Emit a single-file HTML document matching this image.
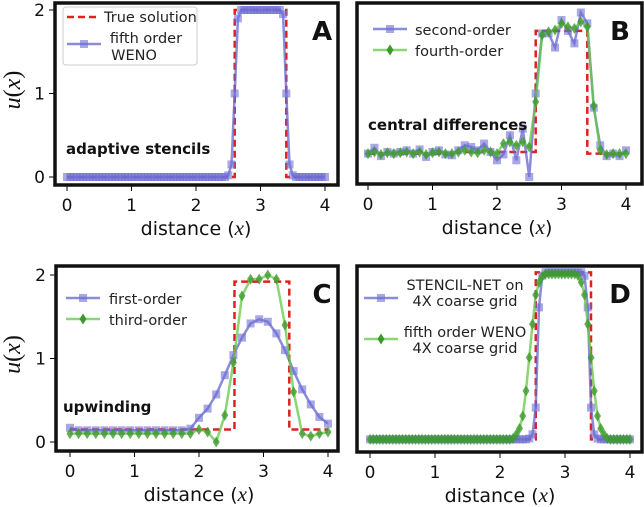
<!DOCTYPE html>
<html><head><meta charset="utf-8"><style>
html,body{margin:0;padding:0;background:#fff;}
svg{display:block;font-family:"DejaVu Sans","Liberation Sans",sans-serif;}
</style></head><body>
<svg id="fig" width="644" height="507" viewBox="0 0 644 507" xmlns="http://www.w3.org/2000/svg"></svg>
<script>
// ---- data ----
const xTicks = [0,1,2,3,4];
const yTicks = [0,1,2];
// Panel A (dx = 0.05)
const aTrueX = [0,2.6,2.6,3.4,3.4,4];
const aTrueY = [0,0,2,2,0,0];
const aWeno = [0,0,0,0,0,0,0,0,0,0, 0,0,0,0,0,0,0,0,0,0, 0,0,0,0,0,0,0,0,0,0, 0,0,0,0,0,0,0,0,0,0, 0,0,0,0,0,0,0,0,0,0,
  0.02,0.15,1.0,1.9,2,2,2,2,2,2, 2,2,2,2,2,2,2,1.95,1.0,0.15, 0.02,0,0,0,0,0,0,0,0,0, 0];
// Panel B (dx = 0.1)
const bTrueX = [0,1.3,1.3,2.6,2.6,3.4,3.4,4];
const bTrueY = [0.28,0.28,0.3,0.3,1.75,1.75,0.28,0.28];
const bSecond = [0.28,0.35,0.25,0.3,0.28,0.3,0.32,0.28,0.33,0.24, 0.3,0.32,0.27,0.26,0.32,0.38,0.36,0.32,0.4,0.3,
  0.2,0.27,0.5,0.2,0.58,0.0,1.0,1.72,1.72,1.55, 1.88,1.75,1.6,1.97,1.84,0.83,0.38,0.25,0.28,0.25, 0.32];
const bFourth = [0.28,0.3,0.27,0.29,0.28,0.29,0.3,0.28,0.3,0.27, 0.29,0.3,0.28,0.28,0.3,0.32,0.3,0.29,0.32,0.3,
  0.28,0.4,0.42,0.38,0.42,0.36,0.9,1.7,1.74,1.76, 1.84,1.8,1.78,1.86,1.8,0.85,0.32,0.27,0.28,0.28, 0.28];
// Panel C (dx = 4/30)
const cTrueX = [0,2.55,2.55,3.4,3.4,4];
const cTrueY = [0.15,0.15,1.92,1.92,0.15,0.15];
const cFirst = [0.17,0.14,0.14,0.14,0.14,0.14,0.14,0.14,0.14,0.14, 0.14,0.14,0.14,0.14,0.16,0.29,0.4,0.57,0.8,1.04,
  1.25,1.42,1.47,1.44,1.3,1.1,0.85,0.63,0.45,0.3, 0.22];
const cThird = [0.1,0.1,0.1,0.1,0.1,0.1,0.1,0.1,0.1,0.1, 0.1,0.1,0.1,0.1,0.1,0.15,0.12,0.0,0.32,0.95,
  1.75,1.95,1.95,2.0,1.95,1.4,0.6,0.1,0.07,0.1, 0.12];
// Panel D (dx = 0.05)
const dTrueX = [0,2.55,2.55,3.4,3.4,4];
const dTrueY = [0.02,0.02,2.02,2.02,0.02,0.02];
const dStencil = [0.02,0.02,0.02,0.02,0.02,0.02,0.02,0.02,0.02,0.02, 0.02,0.02,0.02,0.02,0.02,0.02,0.02,0.02,0.02,0.02,
  0.02,0.02,0.02,0.02,0.02,0.02,0.02,0.02,0.02,0.02, 0.02,0.02,0.02,0.02,0.02,0.02,0.02,0.02,0.02,0.02,
  0.02,0.02,0.02,0.02,0.02,0.02,0.02,0.02,0.02,0.03, 0.08,0.4,1.6,1.98,2.02,2.02,2.02,2.02,2.02,2.02,
  2.02,2.02,2.02,2.02,2.02,2.02,1.98,1.6,0.4,0.08, 0.03,0.02,0.02,0.02,0.02,0.02,0.02,0.02,0.02,0.02, 0.02];
const dWeno = [0.02,0.02,0.02,0.02,0.02,0.02,0.02,0.02,0.02,0.02, 0.02,0.02,0.02,0.02,0.02,0.02,0.02,0.02,0.02,0.02,
  0.02,0.02,0.02,0.02,0.02,0.02,0.02,0.02,0.02,0.02, 0.02,0.02,0.02,0.02,0.02,0.02,0.02,0.02,0.02,0.02,
  0.02,0.02,0.02,0.02,0.03,0.08,0.15,0.3,0.6,1.0, 1.4,1.75,1.9,1.97,2.0,2.0,2.0,2.0,2.0,2.0,
  2.0,2.0,2.0,2.0,1.98,1.9,1.75,1.4,1.0,0.6, 0.3,0.15,0.08,0.03,0.02,0.02,0.02,0.02,0.02,0.02, 0.02];

const NS = "http://www.w3.org/2000/svg";
const svg = document.getElementById('fig');
function mk(tag, attrs, parent){
  const e = document.createElementNS(NS, tag);
  for (const k in attrs) e.setAttribute(k, attrs[k]);
  (parent||svg).appendChild(e);
  return e;
}
function txt(s, attrs, parent){ const t = mk('text', attrs, parent); t.textContent = s; return t; }

const BLUE = "rgba(100,100,205,0.75)";
const BLUEM = "rgba(110,110,215,0.6)";
const GREEN = "rgba(100,200,70,0.75)";
const GREENM = "#3c9a2c";
const LFS = 14.5;

function panel(cfg){
  const g = mk('g', {});
  
  
  const sx = v => cfg.x0 + v*(cfg.x4-cfg.x0)/4;
  const sy = v => cfg.y0 - v*(cfg.y0-cfg.y2)/2;
  cfg.sx = sx; cfg.sy = sy;
  xTicks.forEach(t=>{
    mk('line',{x1:sx(t),x2:sx(t),y1:cfg.bottom+1,y2:cfg.bottom+6,stroke:'#000','stroke-width':1},g);
    const l = txt(String(t),{x:sx(t),y:cfg.bottom+26,'text-anchor':'middle','font-size':17,fill:'#111'},g);
    
    
  });
  if (cfg.yticks){
    yTicks.forEach(t=>{
      mk('line',{x1:cfg.left-6,x2:cfg.left-1,y1:sy(t),y2:sy(t),stroke:'#000','stroke-width':1},g);
      const l = txt(String(t),{x:cfg.left-10,y:sy(t)+6,'text-anchor':'end','font-size':17,fill:'#111'},g);
      
      
    });
    const yl = txt('',{transform:`translate(20,${(cfg.top+cfg.bottom)/2-4}) rotate(-90)`,'text-anchor':'middle','font-size':24,'font-family':'Liberation Serif, serif',fill:'#111'},g);
    yl.innerHTML = '<tspan font-style="italic">u</tspan>(<tspan font-style="italic">x</tspan>)';
    
    
  }
  const xl = txt('',{x:(cfg.x0+cfg.x4)/2,y:cfg.bottom+50,'text-anchor':'middle','font-size':19,fill:'#111'},g);
  xl.innerHTML = 'distance (<tspan font-style="italic" font-family="Liberation Serif, serif" font-size="21">x</tspan>)';
  
  
  const cid = 'clip'+cfg.name;
  const cp = mk('clipPath',{id:cid},g);
  mk('rect',{x:cfg.left,y:cfg.top,width:cfg.right-cfg.left,height:cfg.bottom-cfg.top},cp);
  const plot = mk('g',{'clip-path':`url(#${cid})`},g);
  cfg.plot = plot;
  return g;
}
function series(cfg, vals, kind, name){
  const n = vals.length, dx = 4/(n-1);
  const pts = vals.map((v,i)=>[cfg.sx(i*dx), cfg.sy(v)]);
  const col = kind==='sq'?BLUE:GREEN;
  const p = mk('polyline',{points:pts.map(p=>p.join(',')).join(' '),fill:'none',stroke:col,'stroke-width':2.5},cfg.plot);
  
  
  pts.forEach(([x,y])=>{
    let m;
    if (kind==='sq') m = mk('rect',{x:x-4,y:y-4,width:8,height:8,fill:BLUEM},cfg.plot);
    else m = mk('polygon',{points:`${x},${y-5.5} ${x+3.5},${y} ${x},${y+5.5} ${x-3.5},${y}`,fill:GREENM,opacity:0.8},cfg.plot);
    
    
  });
}
function truth(cfg, xs, ys){
  const pts = xs.map((x,i)=>cfg.sx(x)+','+cfg.sy(ys[i])).join(' ');
  const p = mk('polyline',{points:pts,fill:'none',stroke:'#e02020','stroke-width':2.5,'stroke-dasharray':'7,4'},cfg.plot);
  
  
}
function frame(cfg, g, letter, lx){
  const f = mk('rect',{x:cfg.left,y:cfg.top,width:cfg.right-cfg.left,height:cfg.bottom-cfg.top,fill:'none',stroke:'#111','stroke-width':3.5},g);
  
  
  const t = txt(letter,{x:lx,y:cfg.top+37,'font-size':26,'font-weight':'bold',fill:'#111','text-anchor':'middle'},g);
  
  
}
function legendEntry(g, x, y, kind){
  const col = kind==='sq'?BLUE:(kind==='dg'?GREEN:'#e02020');
  const e = mk('g',{},g);
  
  
  if (kind==='red') mk('line',{x1:x,x2:x+32,y1:y,y2:y,stroke:col,'stroke-width':2.5,'stroke-dasharray':'7,4'},e);
  else {
    mk('line',{x1:x,x2:x+34,y1:y,y2:y,stroke:col,'stroke-width':2.5},e);
    if (kind==='sq') mk('rect',{x:x+13,y:y-4,width:8,height:8,fill:BLUEM},e);
    else mk('polygon',{points:`${x+17},${y-5.5} ${x+20.5},${y} ${x+17},${y+5.5} ${x+13.5},${y}`,fill:GREENM},e);
  }
}

// Panel A
const A = {name:'panel-a',left:55,right:338,top:3,bottom:185,x0:67,x4:325,y0:177,y2:10,yticks:true};
const gA = panel(A);
truth(A,aTrueX,aTrueY);
series(A,aWeno,'sq','fifth-order-weno');
frame(A,gA,'A',322);
const la = mk('g',{},gA);  
mk('rect',{x:63,y:7,width:134,height:58,rx:3,fill:'#fff',stroke:'#ccc','stroke-width':1},la);
legendEntry(la,67,17,'red');
txt('True solution',{x:104,y:22,'font-size':LFS,fill:'#222'},la);
legendEntry(la,67,44,'sq');
txt('fifth order',{x:146,y:43,'font-size':LFS,fill:'#222','text-anchor':'middle'},la);
txt('WENO',{x:134,y:60,'font-size':LFS,fill:'#222','text-anchor':'middle'},la);
const aa = txt('adaptive stencils',{x:66,y:154,'font-size':15,'font-weight':'bold',fill:'#111'},gA);
 

// Panel B
const B = {name:'panel-b',left:357,right:642,top:3,bottom:184,x0:368,x4:626,y0:177,y2:10,yticks:false};
const gB = panel(B);
truth(B,bTrueX,bTrueY);
series(B,bSecond,'sq','second-order');
series(B,bFourth,'dg','fourth-order');
frame(B,gB,'B',620);
const lb = mk('g',{},gB);  
legendEntry(lb,373,29,'sq');
txt('second-order',{x:415,y:35,'font-size':LFS,fill:'#222'},lb);
legendEntry(lb,373,50,'dg');
txt('fourth-order',{x:415,y:56,'font-size':LFS,fill:'#222'},lb);
const ab = txt('central differences',{x:368,y:130,'font-size':15,'font-weight':'bold',fill:'#111'},gB);
 

// Panel C
const C = {name:'panel-c',left:56,right:338,top:266,bottom:451,x0:70,x4:328,y0:442,y2:275,yticks:true};
const gC = panel(C);
truth(C,cTrueX,cTrueY);
series(C,cFirst,'sq','first-order');
series(C,cThird,'dg','third-order');
frame(C,gC,'C',322);
const lc = mk('g',{},gC);  
legendEntry(lc,66,298,'sq');
txt('first-order',{x:109,y:304,'font-size':LFS,fill:'#222'},lc);
legendEntry(lc,66,319,'dg');
txt('third-order',{x:109,y:325,'font-size':LFS,fill:'#222'},lc);
const ac = txt('upwinding',{x:63,y:412,'font-size':15,'font-weight':'bold',fill:'#111'},gC);
 

// Panel D
const D = {name:'panel-d',left:357,right:642,top:266,bottom:452,x0:370,x4:630,y0:441,y2:274,yticks:false};
const gD = panel(D);
truth(D,dTrueX,dTrueY);
series(D,dStencil,'sq','stencil-net');
series(D,dWeno,'dg','fifth-order-weno-coarse');
frame(D,gD,'D',620);
const ld = mk('g',{},gD);  
legendEntry(ld,364,298,'sq');
txt('STENCIL-NET on',{x:465,y:290,'font-size':LFS,fill:'#222','text-anchor':'middle'},ld);
txt('4X coarse grid',{x:465,y:306,'font-size':LFS,fill:'#222','text-anchor':'middle'},ld);
legendEntry(ld,364,339,'dg');
txt('fifth order WENO',{x:465,y:337,'font-size':LFS,fill:'#222','text-anchor':'middle'},ld);
txt('4X coarse grid',{x:465,y:353,'font-size':LFS,fill:'#222','text-anchor':'middle'},ld);
</script>
</body></html>
